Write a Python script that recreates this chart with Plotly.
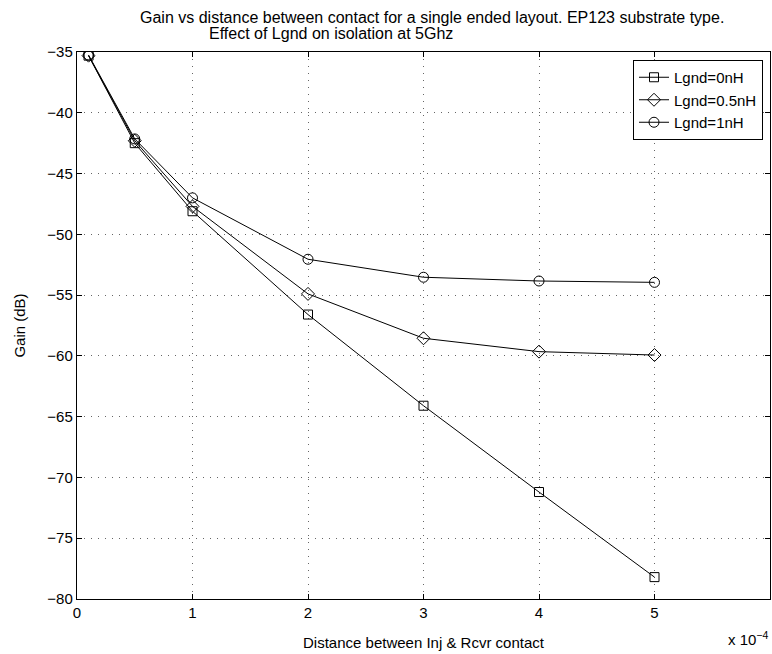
import plotly.graph_objects as go

x_vals = [0.1, 0.5, 1, 2, 3, 4, 5]
gain_0nH = [-35.3, -42.5, -48.1, -56.6, -64.1, -71.2, -78.2]
gain_05nH = [-35.3, -42.3, -47.7, -54.9, -58.55, -59.65, -59.93]
gain_1nH = [-35.25, -42.15, -47.0, -52.05, -53.53, -53.84, -53.95]
series_names = ["Lgnd=0nH", "Lgnd=0.5nH", "Lgnd=1nH"]
x_ticks = [0, 1, 2, 3, 4, 5]
y_ticks = [-80, -75, -70, -65, -60, -55, -50, -45, -40, -35]

FONT = "Liberation Sans, Arial, Helvetica, sans-serif"
W, H = 772, 654
L, R, T, B = 77, 2, 52, 55
PW, PH = W - L - R, H - T - B

def px_x(p):
    return (p - L) / PW

def px_y(p):
    return (H - B - p) / PH

fig = go.Figure()
for ys, name, sym in zip([gain_0nH, gain_05nH, gain_1nH], series_names,
                         ["square-open", "diamond-open", "circle-open"]):
    fig.add_trace(go.Scatter(
        x=x_vals, y=ys, name=name, mode="lines+markers",
        line=dict(color="black", width=1),
        marker=dict(symbol=sym, size=10 if sym != "square-open" else 9,
                    color="black", line=dict(width=1, color="black")),
    ))

axis_common = dict(
    showline=True, linecolor="black", linewidth=1.4, mirror="ticks",
    ticks="inside", ticklen=5, tickcolor="black", tickwidth=1,
    showgrid=True, gridcolor="#666", gridwidth=1, griddash="1px,6px",
    zeroline=False, tickfont=dict(family=FONT, size=15, color="black"),
)
fig.update_xaxes(range=[0, 6], tickvals=x_ticks, ticktext=[str(v) for v in x_ticks],
                 title=dict(text="Distance between Inj &amp; Rcvr contact",
                            font=dict(family=FONT, size=15, color="black"), standoff=17),
                 **axis_common)
fig.update_yaxes(range=[-80, -35], tickvals=y_ticks,
                 title=dict(text="Gain (dB)", font=dict(family=FONT, size=15, color="black"),
                            standoff=18),
                 **axis_common)

fig.add_annotation(text="Gain vs distance between contact for a single ended layout. EP123 substrate type.",
                   xref="paper", yref="paper", x=px_x(432), y=px_y(17),
                   xanchor="center", yanchor="middle", showarrow=False,
                   font=dict(family=FONT, size=16, color="black"))
fig.add_annotation(text="Effect of Lgnd on isolation at 5Ghz",
                   xref="paper", yref="paper", x=px_x(207), y=px_y(34),
                   xanchor="left", yanchor="middle", showarrow=False,
                   font=dict(family=FONT, size=16, color="black"))
fig.add_annotation(text="x 10<sup>−4</sup>",
                   xref="paper", yref="paper", x=px_x(770), y=px_y(638),
                   xanchor="right", yanchor="middle", showarrow=False,
                   font=dict(family=FONT, size=15, color="black"))

fig.update_layout(
    width=W, height=H, margin=dict(l=L, r=R, t=T, b=B),
    paper_bgcolor="white", plot_bgcolor="white",
    font=dict(family=FONT, size=15, color="black"),
    legend=dict(x=px_x(763), y=px_y(60), xanchor="right", yanchor="top",
                bordercolor="black", borderwidth=1, bgcolor="white",
                font=dict(family=FONT, size=15, color="black"),
                tracegroupgap=0, itemwidth=30),
    showlegend=True,
)

fig.write_html("out.html")
